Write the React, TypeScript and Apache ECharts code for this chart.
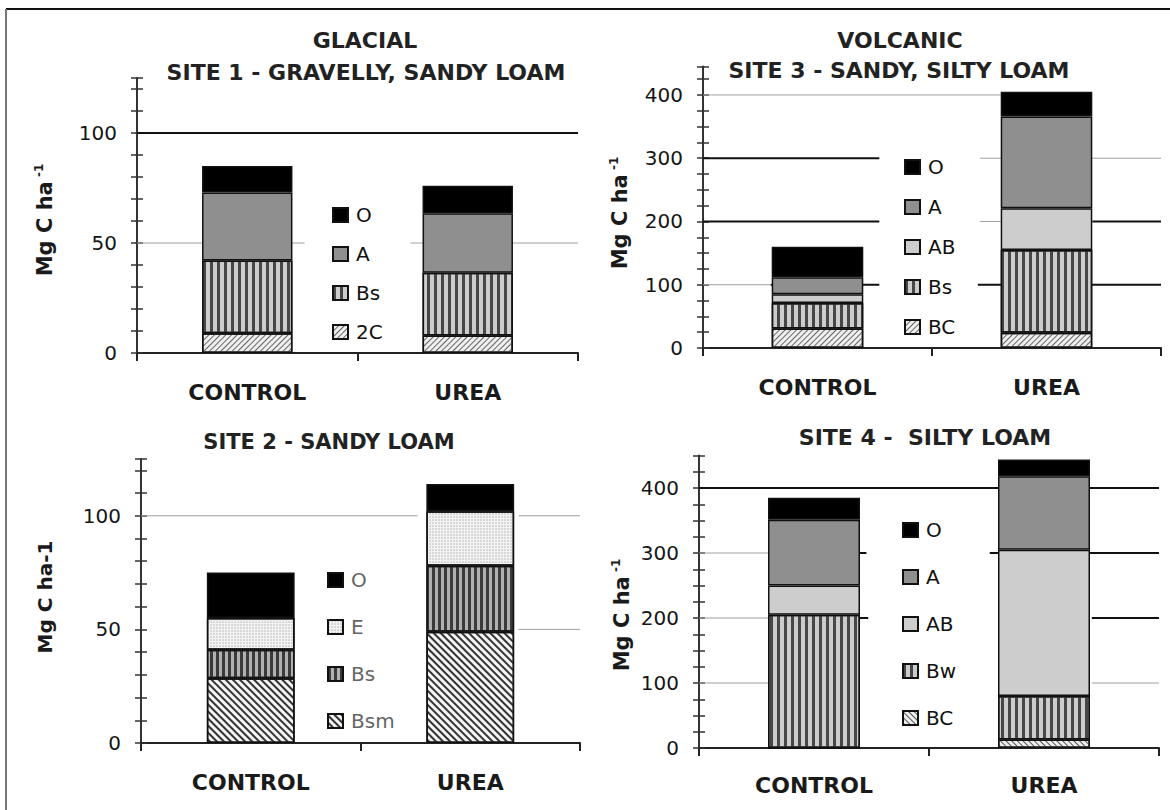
import React, { useEffect, useRef } from 'react';
import * as echarts from 'echarts';

// ---------------- DATA ----------------
const categories = ['CONTROL', 'UREA'];

// Site 1 (glacial) – gravelly, sandy loam (Mg C ha-1)
const site1_2C = [9, 8];
const site1_Bs = [33, 28.5];
const site1_A = [31, 27];
const site1_O = [12, 12.5];
const site1TickLabels = [0, 50, 100];

// Site 3 (volcanic) – sandy, silty loam
const site3_BC = [31, 24];
const site3_Bs = [40, 131];
const site3_AB = [14, 66];
const site3_A = [27, 145];
const site3_O = [48, 39];
const site3TickLabels = [0, 100, 200, 300, 400];

// Site 2 – sandy loam
const site2_Bsm = [28.5, 49];
const site2_Bs = [12.5, 29];
const site2_E = [14, 24];
const site2_O = [20, 12];
const site2TickLabels = [0, 50, 100];

// Site 4 – silty loam
const site4_BC = [0, 13];
const site4_Bw = [205, 67];
const site4_AB = [45, 225];
const site4_A = [101, 113];
const site4_O = [34, 26];
const site4TickLabels = [0, 100, 200, 300, 400];

// ---------------- STYLES ----------------
const FONT = '"DejaVu Sans", sans-serif';

const solid = (c: string) => ({ color: c });
const vStripes = (base: string, line: string, w: number, gap: number) => ({
  color: base,
  decal: {
    symbol: 'rect', symbolSize: 1, symbolKeepAspect: false, color: line,
    dashArrayX: [w, gap], dashArrayY: [1, 0], rotation: 0,
  },
});
const hatch = (base: string, line: string, w: number, gap: number, rot: number) => ({
  color: base,
  decal: {
    symbol: 'rect', symbolSize: 1, symbolKeepAspect: false, color: line,
    dashArrayX: [1, 0], dashArrayY: [w, gap], rotation: rot,
  },
});
const dots = (base: string, dot: string) => ({
  color: base,
  decal: {
    symbol: 'circle', symbolSize: 0.7, color: dot,
    dashArrayX: [2, 1], dashArrayY: [2, 1], rotation: 0,
  },
});

const UP = -Math.PI / 4;
const DOWN = Math.PI / 4;

const BLACK = '#000';
const GREY_A = '#8f8f8f';
const GREY_AB = '#cdcdcd';

// gridline segments: [value, fromFraction, toFraction, kind]
type Seg = [number, number, number, string];

const panels = [
  {
    key: '1',
    grid: { left: 137, top: 78, width: 441, height: 275 },
    max: 125, interval: 10, tickLabels: site1TickLabels, barWidth: '41%', catMargin: 28,
    layers: [
      { name: '2C', values: site1_2C, style: hatch('#efefef', '#666', 1, 3, UP) },
      { name: 'Bs', values: site1_Bs, style: vStripes('#cccccc', '#474747', 3, 4) },
      { name: 'A', values: site1_A, style: solid(GREY_A) },
      { name: 'O', values: site1_O, style: solid(BLACK) },
    ],
    legend: { left: 332, top: 205, gap: 19, color: '#111' },
    segs: [
      [100, 0, 1, 'k'], [50, 0, 0.38, 'g'], [50, 0.62, 1, 'g'],
    ] as Seg[],
  },
  {
    key: '3',
    grid: { left: 703, top: 66.5, width: 458, height: 281.5 },
    max: 445, interval: 25, tickLabels: site3TickLabels, barWidth: '40%', catMargin: 28,
    layers: [
      { name: 'BC', values: site3_BC, style: hatch('#efefef', '#666', 1, 3, UP) },
      { name: 'Bs', values: site3_Bs, style: vStripes('#cccccc', '#474747', 3, 4) },
      { name: 'AB', values: site3_AB, style: solid(GREY_AB) },
      { name: 'A', values: site3_A, style: solid(GREY_A) },
      { name: 'O', values: site3_O, style: solid(BLACK) },
    ],
    legend: { left: 904, top: 157, gap: 20, color: '#111' },
    segs: [
      [400, 0, 0.65, 'g'],
      [300, 0, 0.385, 'k'], [300, 0.605, 1, 'g'],
      [200, 0, 0.385, 'k'], [200, 0.605, 0.65, 'g'], [200, 0.85, 1, 'k'],
      [100, 0, 0.148, 'g'], [100, 0.148, 0.385, 'k'], [100, 0.6, 1, 'k'],
    ] as Seg[],
  },
  {
    key: '2',
    grid: { left: 141, top: 459, width: 439, height: 284 },
    max: 125, interval: 10, tickLabels: site2TickLabels, barWidth: '40%', catMargin: 28,
    layers: [
      { name: 'Bsm', values: site2_Bsm, style: hatch('#f4f4f4', '#333', 2, 3, DOWN) },
      { name: 'Bs', values: site2_Bs, style: vStripes('#b0b0b0', '#3a3a3a', 3, 3) },
      { name: 'E', values: site2_E, style: dots('#f2f2f2', '#b0b0b0') },
      { name: 'O', values: site2_O, style: solid(BLACK) },
    ],
    legend: { left: 327, top: 570, gap: 27, color: '#666' },
    segs: [
      [100, 0, 0.63, 'g'], [100, 0.86, 1, 'g'], [50, 0.86, 1, 'g'],
    ] as Seg[],
  },
  {
    key: '4',
    grid: { left: 699, top: 455.5, width: 460, height: 292.5 },
    max: 450, interval: 25, tickLabels: site4TickLabels, barWidth: '40%', catMargin: 26,
    layers: [
      { name: 'BC', values: site4_BC, style: hatch('#eeeeee', '#555', 1, 3, DOWN) },
      { name: 'Bw', values: site4_Bw, style: vStripes('#cccccc', '#474747', 3, 4) },
      { name: 'AB', values: site4_AB, style: solid(GREY_AB) },
      { name: 'A', values: site4_A, style: solid(GREY_A) },
      { name: 'O', values: site4_O, style: solid(BLACK) },
    ],
    legend: { left: 902, top: 520, gap: 27, color: '#111' },
    segs: [
      [400, 0, 1, 'k'],
      [300, 0, 0.15, 'g'], [300, 0.15, 0.364, 'k'], [300, 0.632, 1, 'k'],
      [200, 0, 0.15, 'g'], [200, 0.15, 0.368, 'k'], [200, 0.854, 1, 'k'],
      [100, 0, 0.15, 'g'], [100, 0.854, 1, 'g'],
    ] as Seg[],
  },
];

const titles = [
  { text: 'GLACIAL', x: 365, y: 40, size: 22 },
  { text: 'SITE 1 - GRAVELLY, SANDY LOAM', x: 366, y: 72, size: 22 },
  { text: 'VOLCANIC', x: 900, y: 40, size: 22 },
  { text: 'SITE 3 - SANDY, SILTY LOAM', x: 899, y: 70, size: 22 },
  { text: 'SITE 2 - SANDY LOAM', x: 329, y: 442, size: 21 },
  { text: 'SITE 4 -  SILTY LOAM', x: 925, y: 437, size: 22 },
];

const yNames = [
  { x: 45, y: 220, sup: true },
  { x: 620, y: 213, sup: true },
  { x: 45, y: 597, sup: false },
  { x: 622, y: 615, sup: true },
];

function buildOption() {
  const grid: any[] = [];
  const xAxis: any[] = [];
  const yAxis: any[] = [];
  const series: any[] = [];
  const legend: any[] = [];

  panels.forEach((p, i) => {
    grid.push({ ...p.grid });
    xAxis.push({
      type: 'category', gridIndex: i, data: categories, position: 'bottom',
      axisLine: { show: true, lineStyle: { color: '#222', width: 2 } },
      axisTick: { show: true, length: 8, lineStyle: { color: '#222', width: 2 } },
      axisLabel: { fontSize: 22, fontWeight: 'bold', fontFamily: FONT, color: '#1a1a1a', margin: p.catMargin },
      splitLine: { show: false },
    });
    xAxis.push({ type: 'value', gridIndex: i, min: 0, max: 1, show: false, position: 'top' });

    const labels = p.tickLabels;
    yAxis.push({
      type: 'value', gridIndex: i, min: 0, max: p.max, interval: p.interval, position: 'left',
      axisLine: { show: true, lineStyle: { color: '#333', width: 2 } },
      axisTick: { show: true, length: 6, lineStyle: { color: '#333', width: 1.5 } },
      axisLabel: {
        fontSize: 20, fontFamily: FONT, color: '#151515', margin: 20,
        formatter: (v: number) => (labels.indexOf(v) >= 0 ? String(v) : ''),
      },
      splitLine: { show: false },
    });
    yAxis.push({
      type: 'value', gridIndex: i, min: 0, max: p.max, interval: p.interval, position: 'left', offset: 0,
      axisLine: { show: false },
      axisTick: { show: true, inside: true, length: 6, lineStyle: { color: '#333', width: 1.5 } },
      axisLabel: { show: false },
      splitLine: { show: false },
    });

    p.segs.forEach((s) => {
      series.push({
        type: 'line', xAxisIndex: 2 * i + 1, yAxisIndex: 2 * i,
        data: [[s[1], s[0]], [s[2], s[0]]],
        symbol: 'none', silent: true, z: 1,
        lineStyle: s[3] === 'k' ? { color: '#111', width: 2 } : { color: '#a0a0a0', width: 1 },
      });
    });
    // invisible series on the secondary (inside-tick) axis so that it is laid out
    series.push({
      type: 'line', xAxisIndex: 2 * i + 1, yAxisIndex: 2 * i + 1, data: [],
      symbol: 'none', silent: true,
    });

    p.layers.forEach((l) => {
      series.push({
        type: 'bar', name: `${l.name}#${p.key}`, xAxisIndex: 2 * i, yAxisIndex: 2 * i,
        stack: 'stack' + i, data: l.values, barWidth: p.barWidth,
        itemStyle: { ...l.style, borderColor: '#111', borderWidth: 1.5 },
        emphasis: { disabled: true },
      });
    });

    legend.push({
      orient: 'vertical', left: p.legend.left, top: p.legend.top, padding: 0,
      itemGap: p.legend.gap, itemWidth: 15, itemHeight: 14, icon: 'rect',
      selectedMode: false,
      data: p.layers.map((l) => `${l.name}#${p.key}`).reverse(),
      formatter: (n: string) => n.split('#')[0],
      textStyle: { fontSize: 20, fontFamily: FONT, color: p.legend.color, padding: [0, 0, 0, 3] },
    });
  });

  const graphic: any[] = [
    { type: 'line', shape: { x1: 6, y1: 9, x2: 1170, y2: 9 }, style: { stroke: '#111', lineWidth: 2 } },
    { type: 'line', shape: { x1: 6, y1: 9, x2: 6, y2: 810 }, style: { stroke: '#777', lineWidth: 2 } },
  ];
  titles.forEach((t) => {
    graphic.push({
      type: 'text', x: t.x, y: t.y,
      style: {
        text: t.text, font: `bold ${t.size}px ${FONT}`, fill: '#222',
        align: 'center', verticalAlign: 'middle', textAlign: 'center', textVerticalAlign: 'middle',
      },
    });
  });
  yNames.forEach((n) => {
    graphic.push({
      type: 'text', x: n.x, y: n.y, rotation: Math.PI / 2,
      style: {
        text: n.sup ? '{m|Mg C ha}{s| -1}' : '{m3|Mg C ha-1}',
        rich: {
          m: { fontSize: 21, fontWeight: 'bold', fontFamily: FONT, fill: '#1a1a1a' },
          m3: { fontSize: 20, fontWeight: 'bold', fontFamily: FONT, fill: '#1a1a1a' },
          s: { fontSize: 12, fontWeight: 'bold', fontFamily: FONT, fill: '#1a1a1a', padding: [0, 0, 12, 0] },
        },
        align: 'center', verticalAlign: 'middle', textAlign: 'center', textVerticalAlign: 'middle',
      },
    });
  });

  return {
    animation: false,
    backgroundColor: '#fff',
    grid, xAxis, yAxis, series, legend, graphic,
  };
}

export default function App() {
  const ref = useRef<HTMLDivElement>(null);
  useEffect(() => {
    if (!ref.current) return;
    const chart = echarts.init(ref.current, undefined, { renderer: 'svg' });
    chart.setOption(buildOption() as any);
    return () => chart.dispose();
  }, []);
  return (
    <div
      ref={ref}
      style={{ position: 'absolute', left: 0, top: 0, width: 1170, height: 810, background: '#fff' }}
    />
  );
}
